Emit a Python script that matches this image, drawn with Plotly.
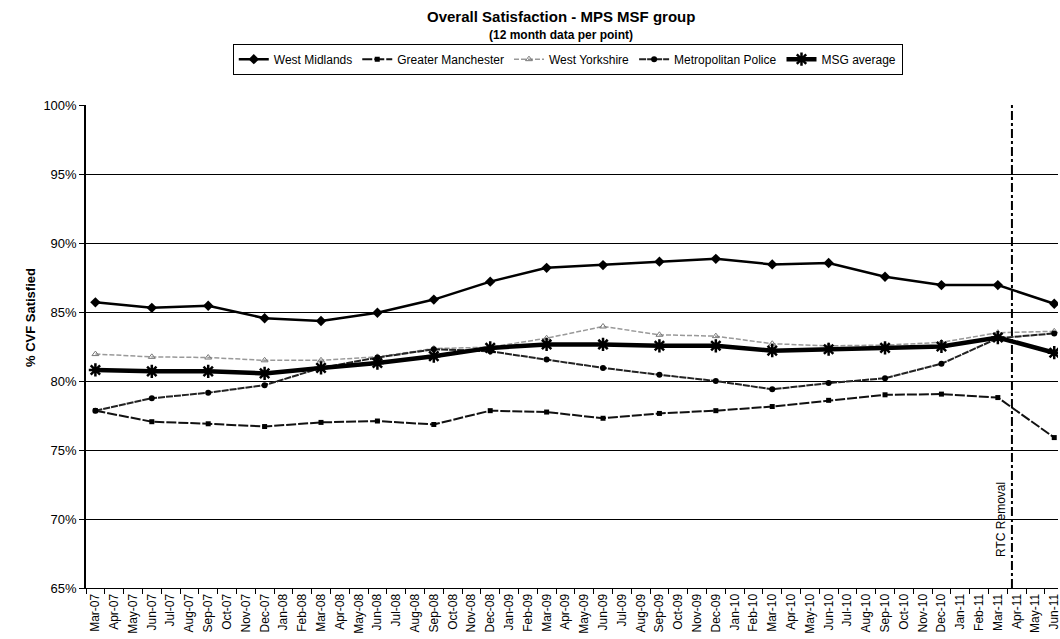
import plotly.graph_objects as go

# ---- data ----
months = ["Mar-07","Apr-07","May-07","Jun-07","Jul-07","Aug-07","Sep-07","Oct-07","Nov-07","Dec-07",
          "Jan-08","Feb-08","Mar-08","Apr-08","May-08","Jun-08","Jul-08","Aug-08","Sep-08","Oct-08",
          "Nov-08","Dec-08","Jan-09","Feb-09","Mar-09","Apr-09","May-09","Jun-09","Jul-09","Aug-09",
          "Sep-09","Oct-09","Nov-09","Dec-09","Jan-10","Feb-10","Mar-10","Apr-10","May-10","Jun-10",
          "Jul-10","Aug-10","Sep-10","Oct-10","Nov-10","Dec-10","Jan-11","Feb-11","Mar-11","Apr-11",
          "May-11","Jun-11"]
points = ["Mar-07","Jun-07","Sep-07","Dec-07","Mar-08","Jun-08","Sep-08","Dec-08","Mar-09",
          "Jun-09","Sep-09","Dec-09","Mar-10","Jun-10","Sep-10","Dec-10","Mar-11","Jun-11"]

west_midlands = [85.7, 85.3, 85.45, 84.55, 84.35, 84.95, 85.9, 87.2, 88.2,
                 88.4, 88.65, 88.85, 88.45, 88.55, 87.55, 86.95, 86.95, 85.6]
greater_manchester = [77.85, 77.05, 76.9, 76.7, 77.0, 77.1, 76.85, 77.85, 77.75,
                      77.3, 77.65, 77.85, 78.15, 78.6, 79.0, 79.05, 78.8, 75.9]
west_yorkshire = [81.95, 81.75, 81.7, 81.5, 81.5, 81.75, 82.35, 82.45, 83.1,
                  83.95, 83.35, 83.25, 82.7, 82.55, 82.6, 82.8, 83.5, 83.6]
metropolitan_police = [77.85, 78.75, 79.15, 79.7, 80.95, 81.7, 82.3, 82.15, 81.55,
                       80.95, 80.45, 80.0, 79.4, 79.85, 80.2, 81.25, 83.1, 83.45]
msg_average = [80.8, 80.7, 80.7, 80.55, 80.95, 81.3, 81.8, 82.4, 82.65,
               82.65, 82.55, 82.55, 82.2, 82.3, 82.4, 82.5, 83.15, 82.05]

RTC_POS = 48.75  # just after Mar-11
FONT = "Arial, Liberation Sans, sans-serif"

def pct(v):
    return [x / 100 for x in v]

fig = go.Figure()
fig.add_trace(go.Scatter(x=points, y=pct(west_midlands), name="West Midlands", mode="lines+markers",
                         line=dict(color="black", width=2.5),
                         marker=dict(symbol="diamond", size=8, color="black")))
fig.add_trace(go.Scatter(x=points, y=pct(greater_manchester), name="Greater Manchester", mode="lines+markers",
                         line=dict(color="#111", width=2, dash="10px,2px"),
                         marker=dict(symbol="square", size=5, color="black")))
fig.add_trace(go.Scatter(x=points, y=pct(west_yorkshire), name="West Yorkshire", mode="lines+markers",
                         line=dict(color="#999", width=1.5, dash="5px,2px"),
                         marker=dict(symbol="triangle-up-open", size=6, color="#777")))
fig.add_trace(go.Scatter(x=points, y=pct(metropolitan_police), name="Metropolitan Police", mode="lines+markers",
                         line=dict(color="#222", width=2, dash="7px,1px"),
                         marker=dict(symbol="circle", size=6, color="black")))
fig.add_trace(go.Scatter(x=points, y=pct(msg_average), name="MSG average", mode="lines+markers",
                         line=dict(color="black", width=4.5),
                         marker=dict(symbol="asterisk-open", size=11, color="black",
                                     line=dict(color="black", width=2.5))))

fig.add_shape(type="line", xref="x", yref="paper", x0=RTC_POS, x1=RTC_POS, y0=0, y1=1,
              line=dict(color="black", width=2, dash="dashdot"))
fig.add_annotation(x=RTC_POS, y=0.70, xref="x", yref="y", text="RTC Removal", textangle=-90,
                   showarrow=False, xshift=-11, font=dict(family=FONT, size=12, color="black"))

fig.add_annotation(x=0.4887, y=1.0, xref="paper", yref="paper", yshift=89, yanchor="middle",
                   text="<b>Overall Satisfaction - MPS MSF group</b>", showarrow=False,
                   font=dict(family=FONT, size=15, color="black"))
fig.add_annotation(x=0.4887, y=1.0, xref="paper", yref="paper", yshift=70, yanchor="middle",
                   text="<b>(12 month data per point)</b>", showarrow=False,
                   font=dict(family=FONT, size=12, color="black"))
fig.add_annotation(x=-0.0576, y=0.559, xref="paper", yref="paper", xanchor="center",
                   text="<b>% CVF Satisfied</b>",
                   textangle=-90, showarrow=False, font=dict(family=FONT, size=13, color="black"))

fig.update_layout(
    width=1060, height=639,
    margin=dict(l=86, r=2, t=105, b=51, autoexpand=False),
    paper_bgcolor="white", plot_bgcolor="white",
    font=dict(family=FONT, size=12, color="black"),
    showlegend=True,
    legend=dict(orientation="h", x=0.151, y=1.127, xanchor="left", yanchor="top",
                bordercolor="black", borderwidth=1, bgcolor="white",
                font=dict(family=FONT, size=12), itemwidth=30, tracegroupgap=0),
    xaxis=dict(type="category", categoryorder="array", categoryarray=months, automargin=False,
               range=[-0.5, 51.2], tickangle=-90, showgrid=False, showline=True,
               linecolor="black", linewidth=1, ticks="outside", tickson="boundaries",
               ticklen=5, tickcolor="black", tickfont=dict(family=FONT, size=12)),
    yaxis=dict(range=[0.65, 1.0], dtick=0.05, tickformat=".0%", showgrid=True, automargin=False,
               gridcolor="black", gridwidth=1, showline=True, linecolor="black", linewidth=1.5,
               ticks="outside", ticklen=5, tickcolor="black", zeroline=False,
               tickfont=dict(family=FONT, size=13)),
)

fig.write_html("out.html", config={"displayModeBar": False},
               post_script="document.body.style.margin='0';")
